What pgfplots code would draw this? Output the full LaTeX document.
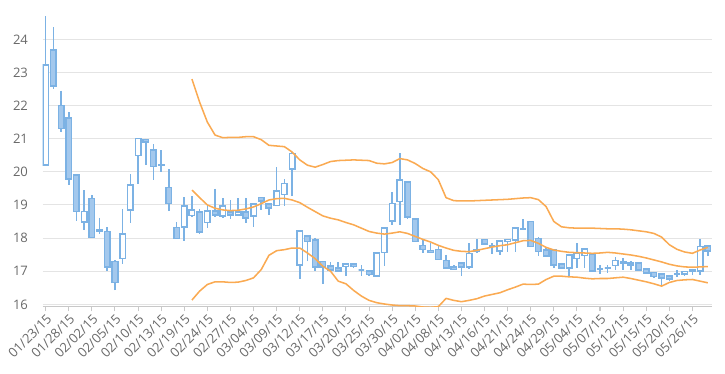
\documentclass[border=0pt]{standalone}
\usepackage{pgfplots}
\pgfplotsset{compat=1.18}
\usepackage{pgfplotstable}
\usepgfplotslibrary{statistics}
\usepackage{fontspec}
\setmainfont{Open Sans}
\definecolor{cborder}{RGB}{124,178,228}
\definecolor{cfill}{RGB}{163,200,237}
\definecolor{corange}{RGB}{250,170,82}
\definecolor{cgrid}{RGB}{228,228,228}
\definecolor{caxis}{RGB}{200,200,200}
\definecolor{ctext}{RGB}{105,105,105}

\pgfplotstableread{
i o h l c
0 20.20 24.70 20.20 23.23
1 23.67 24.36 22.51 22.59
2 22.00 22.45 21.19 21.31
3 21.62 21.82 19.61 19.78
4 19.91 19.93 18.52 18.80
5 18.48 19.46 18.23 18.80
6 19.19 19.30 18.02 18.02
7 18.25 18.62 18.13 18.22
8 18.20 18.33 17.02 17.12
9 17.30 17.33 16.42 16.66
10 17.39 18.87 17.22 18.12
11 18.85 19.94 18.45 19.61
12 20.49 21.00 19.64 21.00
13 20.98 21.00 20.20 20.90
14 20.66 20.83 19.76 20.16
15 20.20 20.65 20.00 20.19
16 19.52 20.09 18.81 19.05
17 18.32 18.49 17.99 17.99
18 18.34 19.25 17.92 18.97
19 18.68 19.28 18.67 18.85
20 18.79 18.89 18.12 18.19
21 18.47 18.99 18.29 18.82
22 18.82 19.49 18.63 18.69
23 18.66 19.20 18.60 18.97
24 18.78 19.15 18.58 18.69
25 18.69 19.22 18.66 18.78
26 18.78 19.22 18.46 18.60
27 18.66 19.05 18.34 19.03
28 19.22 19.23 18.86 19.12
29 19.03 19.05 18.71 18.91
30 18.98 20.15 18.98 19.42
31 19.31 19.79 18.96 19.65
32 20.09 20.61 19.27 20.55
33 17.18 18.21 16.78 18.21
34 18.06 18.06 17.30 17.89
35 17.94 18.01 17.00 17.13
36 17.30 17.30 16.61 17.13
37 17.15 17.28 17.03 17.03
38 17.09 17.27 17.00 17.00
39 17.14 17.22 16.87 17.22
40 17.22 17.22 17.10 17.14
41 17.03 17.18 16.87 17.03
42 17.00 17.00 16.85 16.90
43 16.85 17.55 16.83 17.55
44 17.57 18.31 17.15 18.31
45 18.51 19.39 18.41 19.04
46 19.11 20.57 18.41 19.75
47 19.69 19.69 18.58 18.64
48 18.58 18.61 17.89 17.89
49 17.78 17.96 17.55 17.65
50 17.63 17.86 17.55 17.57
51 17.65 17.75 17.35 17.35
52 17.32 17.50 17.10 17.10
53 17.13 17.20 17.05 17.05
54 17.25 17.25 16.85 17.12
55 17.12 17.86 17.08 17.53
56 17.60 17.96 17.55 17.65
57 17.96 17.97 17.80 17.82
58 17.76 17.84 17.52 17.76
59 17.61 17.92 17.49 17.92
60 17.89 17.96 17.59 17.96
61 17.94 18.30 17.59 18.30
62 18.28 18.59 18.26 18.28
63 18.50 18.50 17.74 17.74
64 17.99 18.04 17.46 17.59
65 17.64 17.72 17.46 17.46
66 17.64 17.64 17.09 17.19
67 17.21 17.26 17.09 17.09
68 17.09 17.49 16.86 17.49
69 17.39 17.84 17.09 17.54
70 17.47 17.67 17.09 17.67
71 17.50 17.50 17.01 17.01
72 17.06 17.19 16.92 17.06
73 17.09 17.19 16.94 17.09
74 17.17 17.43 17.04 17.32
75 17.29 17.40 17.04 17.24
76 17.24 17.30 17.04 17.19
77 17.24 17.24 17.02 17.04
78 17.06 17.09 16.92 16.94
79 16.96 16.99 16.82 16.84
80 16.92 16.95 16.59 16.79
81 16.86 16.89 16.69 16.76
82 16.92 17.04 16.82 16.92
83 16.92 17.01 16.87 16.99
84 16.99 17.04 16.89 17.04
85 17.01 17.97 16.89 17.75
86 17.76 17.76 17.45 17.61
}\ohlc

\pgfplotstableread{
i u m l
19 22.80 19.45 16.13
20 22.10 19.22 16.40
21 21.50 19.00 16.60
22 21.11 18.90 16.68
23 21.03 18.85 16.68
24 21.04 18.83 16.66
25 21.04 18.84 16.67
26 21.06 18.88 16.72
27 21.06 18.94 16.80
28 20.97 19.04 17.05
29 20.80 19.15 17.48
30 20.78 19.19 17.62
31 20.76 19.20 17.65
32 20.60 19.15 17.70
33 20.36 19.07 17.70
34 20.20 18.93 17.55
35 20.14 18.80 17.38
36 20.22 18.67 17.15
37 20.31 18.60 17.00
38 20.34 18.55 16.70
39 20.35 18.47 16.62
40 20.36 18.40 16.42
41 20.35 18.30 16.25
42 20.34 18.20 16.12
43 20.26 18.15 16.05
44 20.24 18.12 16.01
45 20.28 18.15 15.98
46 20.40 18.19 15.96
47 20.36 18.14 15.96
48 20.25 18.05 15.95
49 20.10 17.96 15.92
50 20.00 17.88 15.91
51 19.76 17.78 15.93
52 19.22 17.70 16.18
53 19.13 17.63 16.12
54 19.12 17.60 16.08
55 19.12 17.59 16.12
56 19.13 17.63 16.17
57 19.14 17.68 16.25
58 19.15 17.73 16.30
59 19.16 17.77 16.35
60 19.17 17.80 16.44
61 19.19 17.86 16.52
62 19.21 17.92 16.61
63 19.22 17.93 16.60
64 19.16 17.84 16.61
65 18.95 17.72 16.75
66 18.50 17.64 16.85
67 18.34 17.60 16.85
68 18.31 17.57 16.83
69 18.30 17.56 16.82
70 18.30 17.55 16.79
71 18.30 17.54 16.77
72 18.29 17.55 16.78
73 18.28 17.57 16.78
74 18.28 17.55 16.80
75 18.27 17.52 16.82
76 18.25 17.49 16.78
77 18.22 17.45 16.73
78 18.19 17.40 16.68
79 18.14 17.34 16.62
80 18.03 17.28 16.55
81 17.80 17.21 16.66
82 17.66 17.16 16.72
83 17.58 17.13 16.74
84 17.54 17.12 16.75
85 17.64 17.13 16.70
86 17.72 17.14 16.65
}\bands

\begin{document}
\begin{tikzpicture}
\useasboundingbox (-32.0pt,-50.5pt) rectangle (511.75pt,230.0pt);
\begin{axis}[
  scale only axis,
  width=501.75pt, height=220.4pt,
  xmin=-0.39, xmax=86.5,
  ymin=15.93, ymax=24.8,
  axis x line*=bottom, axis y line*=left,
  y axis line style={draw=none},
  x axis line style={draw=caxis, line width=0.8pt},
  ytick={16,17,...,24},
  ytick style={draw=none},
  xtick={0,3,...,84},
  xticklabels={01/23/15,01/28/15,02/02/15,02/05/15,02/10/15,02/13/15,02/19/15,02/24/15,02/27/15,03/04/15,03/09/15,03/12/15,03/17/15,03/20/15,03/25/15,03/30/15,04/02/15,04/08/15,04/13/15,04/16/15,04/21/15,04/24/15,04/29/15,05/04/15,05/07/15,05/12/15,05/15/15,05/20/15,05/26/15},
  xtick style={draw=caxis, line width=0.8pt},
  tick align=outside,
  major tick length=3.5pt,
  ymajorgrids,
  major grid style={draw=cgrid, line width=0.8pt},
  tick label style={font=\fontsize{9.8}{11}\selectfont, text=ctext},
  /pgf/number format/assume math mode=true,
  yticklabel style={anchor=east, xshift=-4pt},
  xticklabel style={rotate=45, anchor=north east, inner sep=1pt},
  boxplot/draw direction=y,
  boxplot/box extend=0.72,
  boxplot/whisker extend=0,
  upc/.style={draw=cborder, fill=white, line width=1.15pt, solid, mark=none},
  dnc/.style={draw=cborder, fill=cfill, line width=1.15pt, solid, mark=none},
]
\pgfplotsinvokeforeach{0,...,86}{%
  \pgfplotstablegetelem{#1}{o}\of\ohlc\let\vo\pgfplotsretval
  \pgfplotstablegetelem{#1}{h}\of\ohlc\let\vh\pgfplotsretval
  \pgfplotstablegetelem{#1}{l}\of\ohlc\let\vl\pgfplotsretval
  \pgfplotstablegetelem{#1}{c}\of\ohlc\let\vc\pgfplotsretval
  \pgfmathsetmacro\vlo{min(\vo,\vc)}%
  \pgfmathsetmacro\vhi{max(\vo,\vc)}%
  \pgfmathtruncatemacro\isup{\vc>=\vo}%
  \ifnum\isup=1 \def\sty{upc}\else\def\sty{dnc}\fi
  \edef\temp{\noexpand\addplot[\sty, boxplot prepared={draw position=#1, lower whisker=\vl, lower quartile=\vlo, median=\vlo, upper quartile=\vhi, upper whisker=\vh}] coordinates {};}%
  \temp
}
\addplot[corange, line width=1.15pt, line join=round, mark=none] table[x=i, y=u]{\bands};
\addplot[corange, line width=1.15pt, line join=round, mark=none] table[x=i, y=m]{\bands};
\addplot[corange, line width=1.15pt, line join=round, mark=none] table[x=i, y=l]{\bands};
\end{axis}
\end{tikzpicture}
\end{document}
